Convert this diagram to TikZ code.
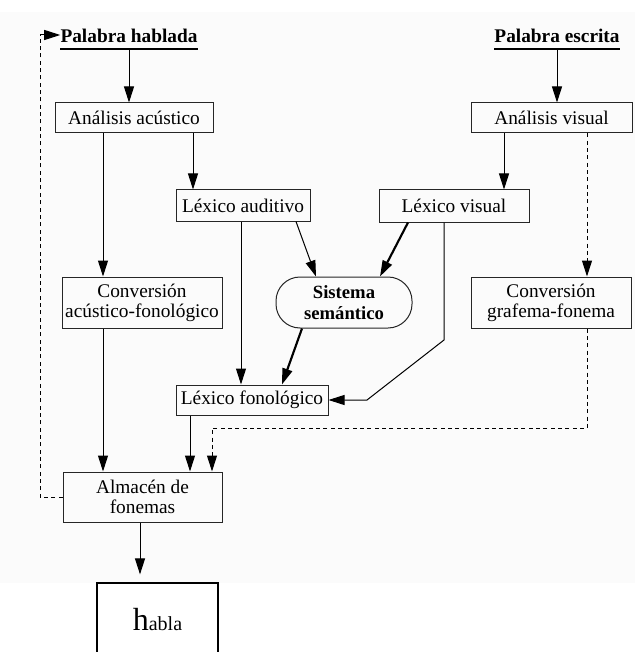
\documentclass[tikz,border=0pt]{standalone}
\usepackage{fontspec}
\setmainfont{Liberation Serif}
\usetikzlibrary{arrows.meta}
\tikzset{
  box/.style= {draw=black!85, line width=0.75pt, inner sep=1pt, align=center, font=\fontsize{14.5}{15}\selectfont},
  pill/.style= {box, rounded corners=18pt, font=\bfseries\fontsize{14}{16}\selectfont},
  word/.style= {inner sep=0, anchor=base, font=\bfseries\fontsize{14.5}{16}\selectfont},
  arr/.style= {-{Triangle[length=12pt,width=7.5pt]}, line width=0.75pt},
  heavy/.style= {arr, line width=1.6pt},
  dline/.style= {arr, dash pattern=on 3pt off 2.5pt},
}

\begin{document}
\begin{tikzpicture}[x=0.75pt, y=-0.75pt]
  \useasboundingbox (0,0) rectangle (635,652);
  \fill [black!1.5] (0,12) rectangle (635,583);

  \node [word] (hh) at (129,43) {Palabra hablada} ;
  \node [word] (he) at (557,43) {Palabra escrita} ;
  \node [box, minimum width=118.5pt, minimum height=22.5pt] (aa) at (134,118) {Análisis acústico} ;
  \node [box, minimum width=120.75pt, minimum height=22.5pt] (av) at (551.5,118) {Análisis visual} ;
  \node [box, minimum width=100.5pt, minimum height=23.25pt] (la) at (243,205.5) {Léxico auditivo} ;
  \node [box, minimum width=112.5pt, minimum height=24pt] (lv) at (454,206) {Léxico visual} ;
  \node [box, minimum width=120pt, minimum height=38.25pt] (caf) at (142,302.5) {Conversión\\acústico-fonológico} ;
  \node [pill, minimum width=102pt, minimum height=38.25pt] (ss) at (344,302.5) {Sistema\\semántico} ;
  \node [box, minimum width=120pt, minimum height=38.25pt] (cgf) at (551,302.5) {Conversión\\grafema-fonema} ;
  \node [box, minimum width=114pt, minimum height=22.5pt] (lf) at (252,400) {Léxico fonológico} ;
  \node [box, minimum width=119.25pt, minimum height=37.5pt] (af) at (142.5,497) {Almacén de\\fonemas} ;
  \node [draw, line width=0.9pt, fill=white, minimum width=90.75pt, minimum height=54.75pt] (hb) at (157.5,619.5)
    {\fontsize{24}{24}\selectfont h\fontsize{15}{15}\selectfont abla} ;

  % underlines
  \draw [line width=0.8pt] (hh.west |- 0,49) -- (hh.east |- 0,49) ;
  \draw [line width=0.8pt] (he.west |- 0,49) -- (he.east |- 0,49) ;

  % spoken route
  \draw [arr] (hh.south |- 0,49) -- (hh.south |- aa.north) ;
  \draw [arr] (aa.south -| 193,0) -- (la.north -| 193,0) ;
  \draw [arr] (aa.south -| 103,0) -- (caf.north -| 103,0) ;
  \draw [arr] (caf.south -| 103,0) -- (af.north -| 103,0) ;
  \draw [arr] (la.south -| 241,0) -- (lf.north -| 241,0) ;
  \draw [arr] (la.south -| 296,0) -- (ss.north -| 316,0) ;
  \draw [arr] (lf.south -| 190,0) -- (af.north -| 190,0) ;
  \draw [arr, shorten >=6pt] (af.south -| 140,0) -- (hb.north -| 140,0) ;

  % written route
  \draw [arr] (he.south |- 0,49) -- (he.south |- av.north) ;
  \draw [arr] (av.south -| 504,0) -- (lv.north -| 504,0) ;
  \draw [dline] (av.south -| 587,0) -- (cgf.north -| 587,0) ;
  \draw [dline] (cgf.south -| 587,0) -- (587,428) -- (212,428) -- (af.north -| 212,0) ;
  \draw [heavy] (lv.south -| 408,0) -- (ss.north -| 380,0) ;
  \draw [heavy] (ss.south -| 302,0) -- (lf.north -| 282,0) ;
  \draw [arr] (lv.south -| 444,0) -- (444,340) -- (367,400) -- (lf.east) ;

  % feedback
  \draw [dline] (af.west) -- (40,497) -- (40,35) -- (hh.west |- 0,35) ;
\end{tikzpicture}
\end{document}
